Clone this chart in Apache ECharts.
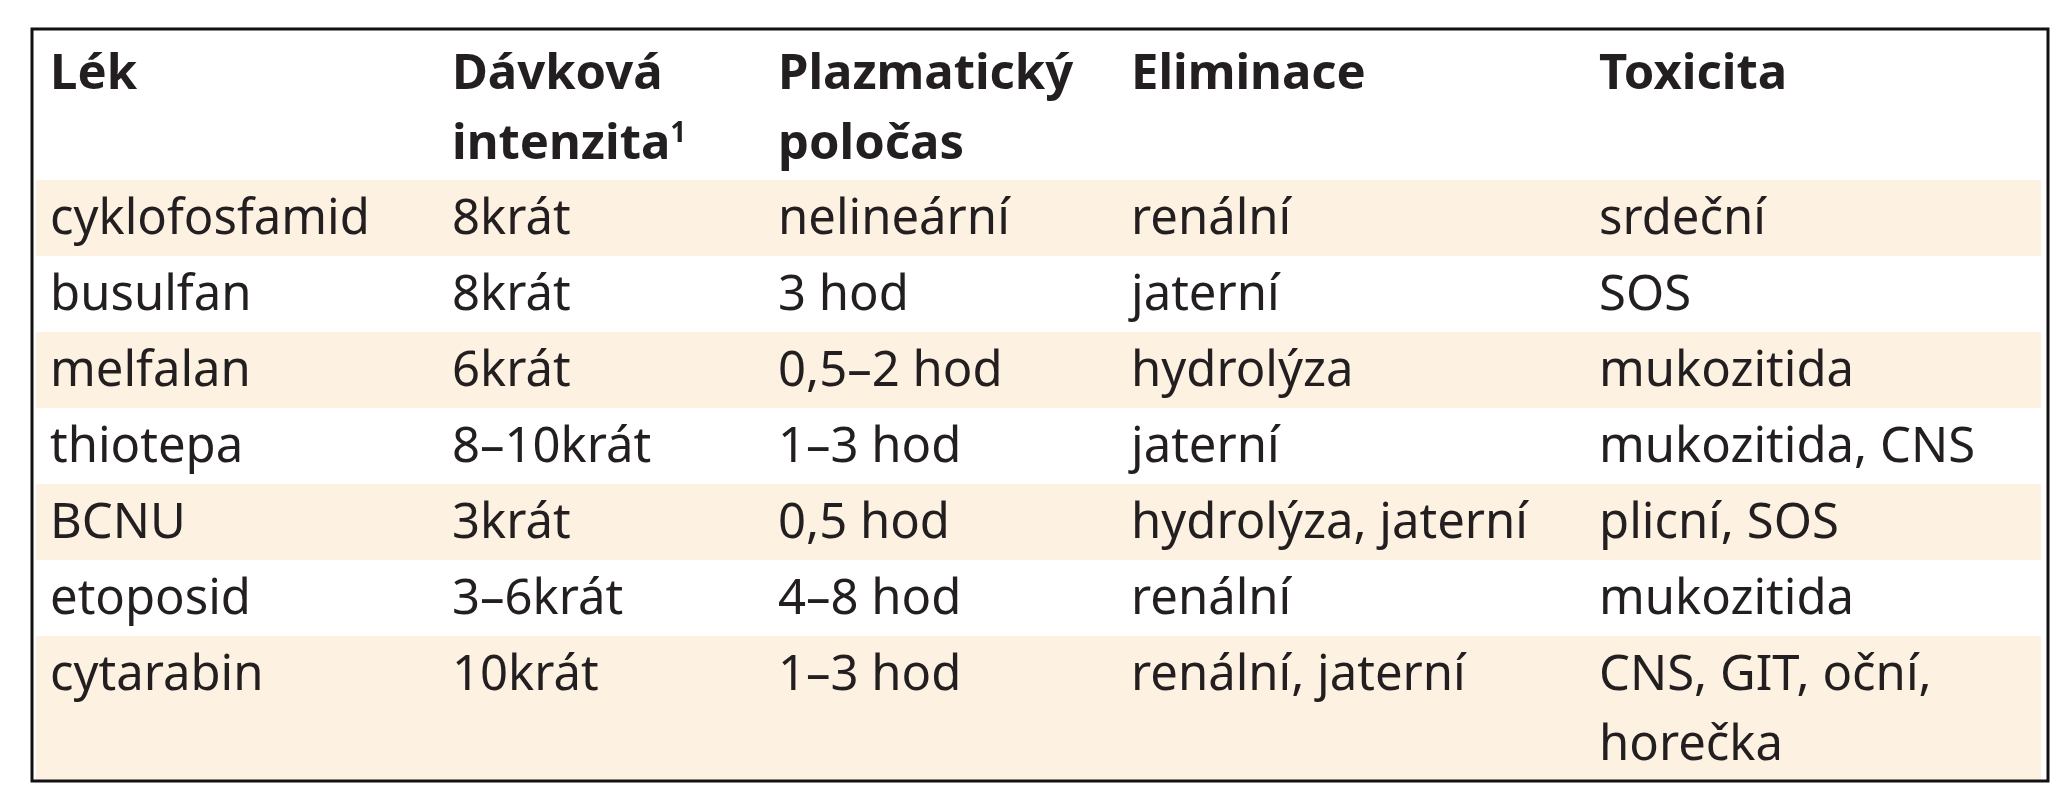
<!DOCTYPE html>
<html><head><meta charset="utf-8">
<script src="https://cdn.jsdelivr.net/npm/echarts@6/dist/echarts.min.js"></script>
<style>html,body{margin:0;padding:0;background:#fff}#c{width:2067px;height:800px}</style>
</head><body><div id="c"></div>
<script>
const headers = [["Lék"], ["Dávková", "intenzita{sup|1}"], ["Plazmatický", "poločas"], ["Eliminace"], ["Toxicita"]];
const drugs = ["cyklofosfamid", "busulfan", "melfalan", "thiotepa", "BCNU", "etoposid", "cytarabin"];
const doseIntensity = ["8krát", "8krát", "6krát", "8–10krát", "3krát", "3–6krát", "10krát"];
const halfLife = ["nelineární", "3 hod", "0,5–2 hod", "1–3 hod", "0,5 hod", "4–8 hod", "1–3 hod"];
const elimination = ["renální", "jaterní", "hydrolýza", "jaterní", "hydrolýza, jaterní", "renální", "renální, jaterní"];
const toxicity = [["srdeční"], ["SOS"], ["mukozitida"], ["mukozitida, CNS"], ["plicní, SOS"], ["mukozitida"], ["CNS, GIT, oční,", "horečka"]];

const colX = [50, 452, 778, 1131, 1599];
const L = 32, R = 2048, T = 29, B = 781;
const headBase = 92, lineGap = 70, rowTop0 = 180, rowH = 76, baseOff = 57;
const FS = 49, FONT = '"Noto Sans", sans-serif', INK = '#231f20', CREAM = '#fdf1e2';

const g = [];
function txt(x, base, s, bold) {
  g.push({type: 'text', x: x, y: base - 17, z: 10,
    style: {text: s, fill: INK, font: (bold ? 'bold ' : '') + FS + 'px ' + FONT, verticalAlign: 'middle',
      rich: {sup: {fontSize: 28, fontWeight: 'bold', fontFamily: FONT, fill: INK, verticalAlign: 'top', padding: [0,0,22,0]}}}});
}
let rowY = rowTop0;
drugs.forEach((d, i) => {
  const lines = Math.max(1, toxicity[i].length);
  const h = i === drugs.length - 1 ? B - rowY : rowH * lines;
  if (i % 2 === 0) g.push({type: 'rect', shape: {x: L + 4, y: rowY, width: R - L - 11, height: h}, style: {fill: CREAM}, z: 1});
  const b = rowY + baseOff;
  const cells = [[d], [doseIntensity[i]], [halfLife[i]], [elimination[i]], toxicity[i]];
  cells.forEach((c, j) => c.forEach((s, k) => txt(colX[j], b + k * lineGap, s, false)));
  rowY += h;
});
headers.forEach((h, j) => h.forEach((s, k) => txt(colX[j], headBase + k * lineGap, s, true)));
g.push({type: 'rect', shape: {x: L, y: T, width: R - L, height: B - T}, style: {fill: 'none', stroke: '#111', lineWidth: 3}, z: 20});

const chart = echarts.init(document.getElementById('c'));
chart.setOption({animation: false, graphic: g});
</script></body></html>
